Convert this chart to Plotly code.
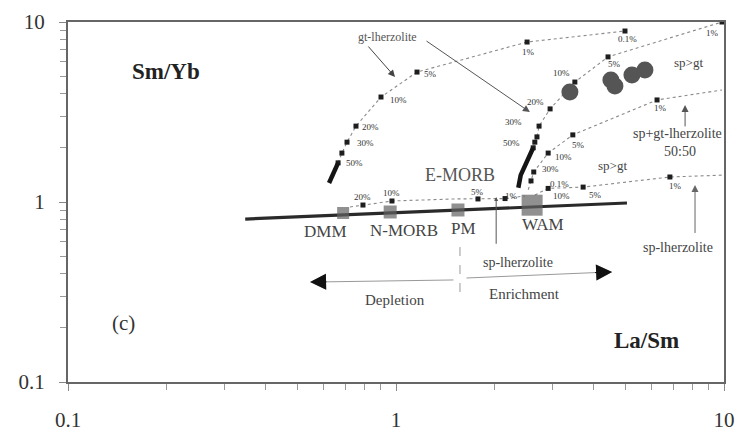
import numpy as np
import plotly.graph_objects as go

# ---- reference mantle reservoirs ----
res_names = ["DMM", "N-MORB", "PM", "WAM"]
res_la_sm = [0.69, 0.96, 1.545, 2.60]
res_sm_yb = [0.869, 0.88, 0.903, 0.96]

# ---- mantle array ----
array_la_sm = [0.347, 5.06]
array_sm_yb = [0.804, 0.987]

# ---- volcanic samples ----
samp_la_sm = [3.39, 4.52, 4.65, 5.24, 5.74]
samp_sm_yb = [4.08, 4.76, 4.41, 5.08, 5.41]

# ---- non-modal batch melting curves (None = no tick mark) ----
gt_la_sm = [0.666, 0.684, 0.709, 0.755, 0.90, 1.159, 2.51, 4.99]
gt_sm_yb = [1.65, 1.87, 2.15, 2.64, 3.83, 5.27, 7.74, 8.91]
gt_pct = ["50%", "", "30%", "20%", "10%", "5%", "1%", "0.1%"]
gt_tail_la_sm = [0.625, 0.666]
gt_tail_sm_yb = [1.275, 1.65]

gtr_la_sm = [2.62, 2.65, 2.69, 2.73, 2.95, 3.51, 4.43, 9.86]
gtr_sm_yb = [2.0, 2.15, 2.30, 2.64, 3.29, 4.64, 6.40, 10.0]
gtr_pct = ["50%", "", "", "30%", "20%", "10%", "5%", "1%"]
gtr_tail_la_sm = [2.36, 2.40, 2.62]
gtr_tail_sm_yb = [1.20, 1.41, 2.0]

mix_la_sm = [2.53, 2.58, 2.63, 2.91, 3.46, 6.25, 9.86]
mix_sm_yb = [1.17, 1.31, 1.468, 1.87, 2.36, 3.69, 4.19]
mix_pct = [None, "0.1%", "30%", "10%", "5%", "1%", None]

spr_la_sm = [2.65, 2.91, 3.72, 6.84, 9.86]
spr_sm_yb = [1.094, 1.19, 1.21, 1.377, 1.41]
spr_pct = [None, "10%", "5%", "1%", None]

sp_la_sm = [0.724, 0.793, 0.972, 1.513, 1.778, 2.15, 2.47]
sp_sm_yb = [0.938, 0.962, 1.013, 1.040, 1.040, 1.045, 1.08]
sp_pct = [None, "20%", "10%", None, "5%", "1%", None]

# pixel offsets of the melt-fraction labels from their tick marks
gt_shift = [(16, 0), None, (18, -1), (15, -1), (18, -3), (13, -2), (1, -10), (3, -8)]
gtr_shift = [(-22, 5), None, None, (-26, 4), (-15, 7), (-13, 9), (6, -7), (-9, -11)]
mix_shift = [None, (28, -3), (17, 3), (15, -4), (6, -10), (3, -8), None]
spr_shift = [None, (13, -8), (12, -8), (6, -9), None]
sp_shift = [None, (0, 8), (0, 8), None, (0, 7), (6, 3), None]

SERIF = "Liberation Serif, Times New Roman, serif"


def L(v):
    return float(np.log10(v))


fig = go.Figure()

curves = [
    (gt_la_sm, gt_sm_yb, gt_pct, gt_shift),
    (gtr_la_sm, gtr_sm_yb, gtr_pct, gtr_shift),
    (mix_la_sm, mix_sm_yb, mix_pct, mix_shift),
    (spr_la_sm, spr_sm_yb, spr_pct, spr_shift),
    (sp_la_sm, sp_sm_yb, sp_pct, sp_shift),
]

annotations = []
for xs, ys, pct, shift in curves:
    fig.add_trace(go.Scatter(x=xs, y=ys, mode="lines",
                             line=dict(color="#8a8a8a", width=1.1, dash="dot"),
                             hoverinfo="skip"))
    mx = [x for x, p in zip(xs, pct) if p is not None]
    my = [y for y, p in zip(ys, pct) if p is not None]
    fig.add_trace(go.Scatter(x=mx, y=my, mode="markers",
                             marker=dict(symbol="square", size=5, color="#1e1e1e"),
                             hoverinfo="skip"))
    for x, y, p, s in zip(xs, ys, pct, shift):
        if p and s:
            annotations.append(dict(x=L(x), y=L(y), xref="x", yref="y", text=p,
                                    showarrow=False, xshift=s[0], yshift=s[1],
                                    font=dict(family=SERIF, size=9, color="#333")))

# steep high-degree segments
for xs, ys in [(gt_tail_la_sm, gt_tail_sm_yb), (gtr_tail_la_sm, gtr_tail_sm_yb)]:
    fig.add_trace(go.Scatter(x=xs, y=ys, mode="lines",
                             line=dict(color="#151515", width=4.5),
                             hoverinfo="skip"))

# mantle array
fig.add_trace(go.Scatter(x=array_la_sm, y=array_sm_yb, mode="lines",
                         line=dict(color="#2a2a2a", width=3.2), hoverinfo="skip"))

# reservoirs
fig.add_trace(go.Scatter(x=res_la_sm, y=res_sm_yb, mode="markers",
                         marker=dict(symbol="square", size=[12, 13, 13, 21],
                                     color="#616161", line=dict(width=0)),
                         hoverinfo="skip"))

# samples
fig.add_trace(go.Scatter(x=samp_la_sm, y=samp_sm_yb, mode="markers",
                         marker=dict(symbol="circle", size=17, color="#555555",
                                     line=dict(width=0)),
                         hoverinfo="skip"))

# Depletion / Enrichment separator
fig.add_trace(go.Scatter(x=[1.567, 1.567], y=[0.562, 0.285], mode="lines",
                         line=dict(color="#999", width=1, dash="dash"),
                         hoverinfo="skip"))

# reservoir labels
for name, x, y in zip(res_names, res_la_sm, res_sm_yb):
    annotations.append(dict(x=L(x), y=L(y), xref="x", yref="y", text=name,
                            showarrow=False, yshift=-19,
                            xshift={"DMM": -18, "N-MORB": 14, "PM": 6, "WAM": 11}[name],
                            font=dict(family=SERIF, size=17, color="#444")))


def arrow(tail, head, size=1.4, width=1.0, color="#777"):
    annotations.append(dict(x=L(head[0]), y=L(head[1]), ax=L(tail[0]), ay=L(tail[1]),
                            xref="x", yref="y", axref="x", ayref="y", text="",
                            showarrow=True, arrowhead=2, arrowsize=size,
                            arrowwidth=width, arrowcolor=color))


def label(x, y, text, size=14, color="#444"):
    annotations.append(dict(x=L(x), y=L(y), xref="x", yref="y", text=text,
                            showarrow=False,
                            font=dict(family=SERIF, size=size, color=color)))


label(1.567, 1.413, "E-MORB", size=18, color="#555")
label(0.945, 8.25, "gt-lherzolite", size=12, color="#555")
arrow((0.816, 7.45), (0.993, 4.95), color="#444")
arrow((1.226, 7.94), (2.56, 3.16), color="#555")
label(7.77, 5.99, "sp>gt", size=13)
label(4.56, 1.605, "sp>gt", size=13)
label(7.24, 2.39, "sp+gt-lherzolite", size=14)
label(7.35, 1.90, "50:50", size=14)
arrow((7.61, 2.58), (7.61, 3.46), color="#555")
label(7.24, 0.562, "sp-lherzolite", size=14)
arrow((8.16, 0.66), (8.16, 1.243), color="#666")
label(2.355, 0.464, "sp-lherzolite", size=14)
arrow((2.02, 0.575), (2.02, 1.066), size=0.8, color="#555")
# Depletion / Enrichment arrows: light shaft, dark head
arrow((1.513, 0.369), (0.547, 0.359), size=3.2, width=1.0, color="#999")
arrow((1.623, 0.378), (4.56, 0.409), size=3.2, width=1.0, color="#999")
arrow((0.62, 0.3605), (0.547, 0.359), size=3.2, width=1.0, color="#111")
arrow((4.0, 0.405), (4.56, 0.409), size=3.2, width=1.0, color="#111")
label(0.993, 0.285, "Depletion", size=15)
label(2.47, 0.308, "Enrichment", size=15)

# panel texts
annotations.append(dict(x=0.0945, y=0.903, xref="paper", yref="paper",
                        text="<b>Sm/Yb</b>", showarrow=False,
                        font=dict(family=SERIF, size=23, color="#222")))
annotations.append(dict(x=0.935, y=0.075, xref="paper", yref="paper",
                        text="<b>La/Sm</b>", showarrow=False,
                        font=dict(family=SERIF, size=23, color="#222")))
annotations.append(dict(x=0.064, y=0.125, xref="paper", yref="paper",
                        text="(c)", showarrow=False,
                        font=dict(family=SERIF, size=21, color="#333")))

minor_vals = [m * 10.0 ** e for e in (-1, 0) for m in range(2, 10)]

axis_common = dict(type="log", range=[-1, 1], showgrid=False, zeroline=False,
                   automargin=False,
                   showline=True, linecolor="#666", linewidth=2, mirror=True,
                   ticks="outside", ticklen=7, tickwidth=1, tickcolor="#888",
                   tickvals=[0.1, 1, 10], ticktext=["0.1", "1", "10"],
                   tickfont=dict(family=SERIF, size=21, color="#333"),
                   minor=dict(tickvals=minor_vals, ticks="outside", ticklen=6,
                              tickwidth=1, tickcolor="#999"))

fig.update_layout(
    width=739, height=434,
    margin=dict(l=68, r=15, t=22, b=52, autoexpand=False),
    paper_bgcolor="white", plot_bgcolor="white",
    showlegend=False,
    xaxis=dict(**axis_common, ticklabelstandoff=11),
    yaxis=dict(**axis_common, ticklabelstandoff=10),
    annotations=annotations,
)

fig.write_html("out.html")
